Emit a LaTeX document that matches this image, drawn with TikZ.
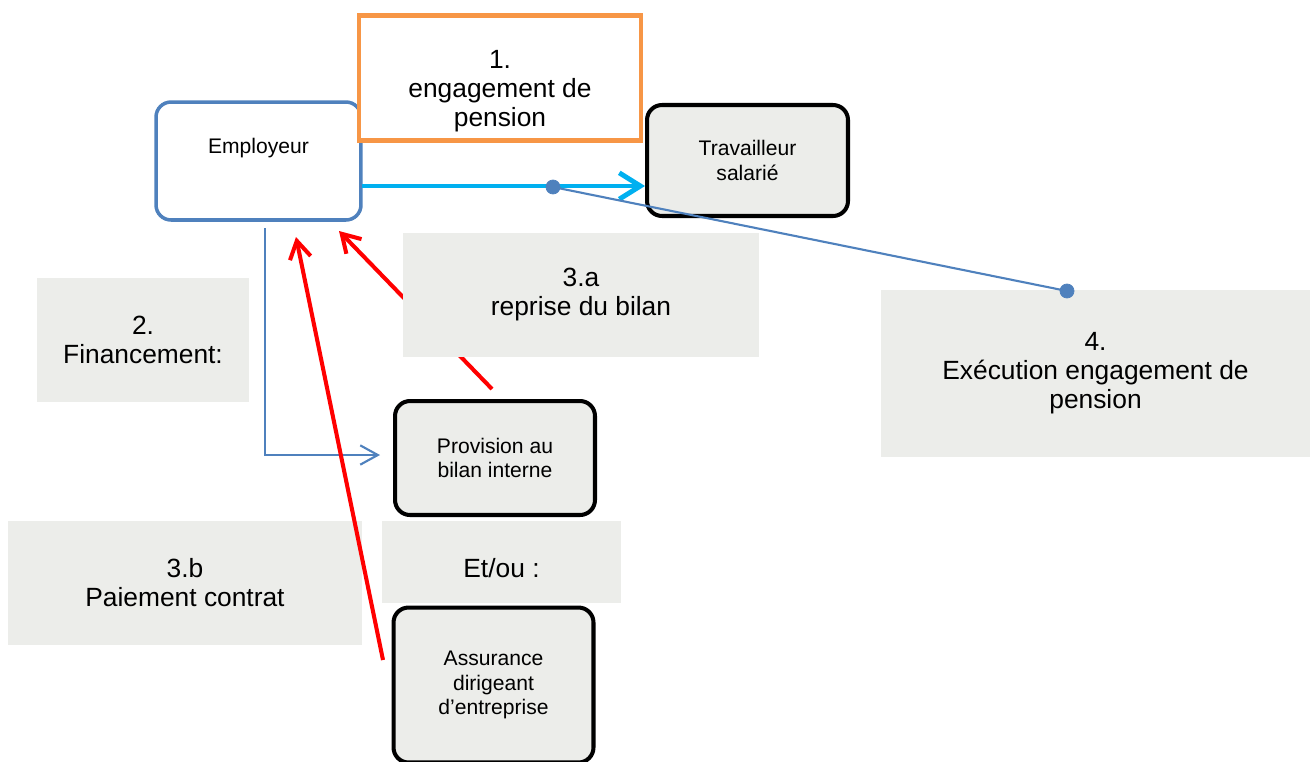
\documentclass[tikz,border=0pt]{standalone}
\usepackage{fontspec}
\setmainfont{Liberation Sans}
\usepackage{tikz}
\usetikzlibrary{arrows.meta}
\usetikzlibrary{positioning}

\definecolor{empblue}{RGB}{79,129,189}
\definecolor{engorange}{RGB}{247,150,70}
\definecolor{arrcyan}{RGB}{0,176,240}
\definecolor{boxgray}{RGB}{236,237,234}

\tikzset{
	bigtext/.style={font=\fontsize{15}{16.5}\selectfont, align=center},
	smalltext/.style={font=\fontsize{12}{13.8}\selectfont, align=center},
	roundbox/.style={draw=black, line width=2.3pt, rounded corners=0.3cm, fill=boxgray, inner sep=0pt},
	graybox/.style={fill=boxgray, inner sep=0pt},
	redarrow/.style={red, line width=2.3pt, -{Straight Barb[length=10pt,width=12pt]}},
}

\begin{document}
\begin{tikzpicture}[x=0.02cm, y=-0.02cm]
		\useasboundingbox (0,0) rectangle (1310,761);
		
		% employeur and step 1
		\node[draw=empblue, line width=2pt, rounded corners=0.3cm, fill=white, minimum width=4.1cm, minimum height=2.36cm] (emp) at (258.5,161) {};
		\node[smalltext] (empt) at (258.5,148) {Employeur};
		\node[draw=engorange, line width=2.3pt, fill=white, minimum width=5.64cm, minimum height=2.5cm] (eng) at (500,78) {};
		\node[bigtext] (engt) at (500,91) {1.\\engagement de\\pension};
		\node[roundbox, smalltext, minimum width=4.02cm, minimum height=2.22cm] (trav) at (747.5,160.5) {Travailleur\\salari\'e};
		
		\coordinate (c0) at (362,186);
		\draw[arrcyan, line width=2.8pt, -{Straight Barb[length=12pt,width=15pt]}] (c0) -- (trav.west |- c0);
		
		% step 4
		\node[graybox, bigtext, minimum width=8.58cm, minimum height=3.34cm] (exec) at (1095.5,373.5) {4.\\Ex\'ecution engagement de\\pension};
		\coordinate (d1) at (553,187);
		\coordinate (d2) at (1067,291);
		\draw[empblue, line width=1.2pt] (d1) -- (d2);
		\filldraw[empblue] (d1) circle (4pt)
		(d2) circle (4pt);
		
		% step 2 and 3.a
		\coordinate (r1) at (492,389);
		\coordinate (r2) at (339,231);
		\draw[redarrow] (r1) -- (r2);
		\node[graybox, bigtext, minimum width=7.12cm, minimum height=2.48cm] (bil) at (581,295) {3.a\\reprise du bilan};
		\node[graybox, bigtext, minimum width=4.24cm, minimum height=2.48cm] (fin) at (143,340) {2.\\Financement:};
		\node[roundbox, smalltext, minimum width=4.0cm, minimum height=2.28cm] (prov) at (495,458) {Provision au\\bilan interne};
		
		\coordinate (f0) at (265,228);
		\coordinate (f1) at (380,455);
		\draw[empblue, line width=1.2pt, -{Straight Barb[length=10pt,width=11pt]}] (f0) |- (f1);
		
		% step 3.b
		\node[graybox, bigtext, minimum width=4.78cm, minimum height=1.64cm] (etou) at (501.5,562) {};
		\node[bigtext] (etout) at (501.5,568) {Et/ou :};
		\node[graybox, bigtext, minimum width=7.08cm, minimum height=2.48cm] (paie) at (185,583) {3.b\\Paiement contrat};
		\node[roundbox, smalltext, minimum width=4.0cm, minimum height=3.1cm] (assu) at (493.5,685) {Assurance\\dirigeant\\d’entreprise};
		
		\coordinate (s1) at (383,660);
		\coordinate (s2) at (296,237);
		\draw[redarrow] (s1) -- (s2);
	\end{tikzpicture}
\end{document}
